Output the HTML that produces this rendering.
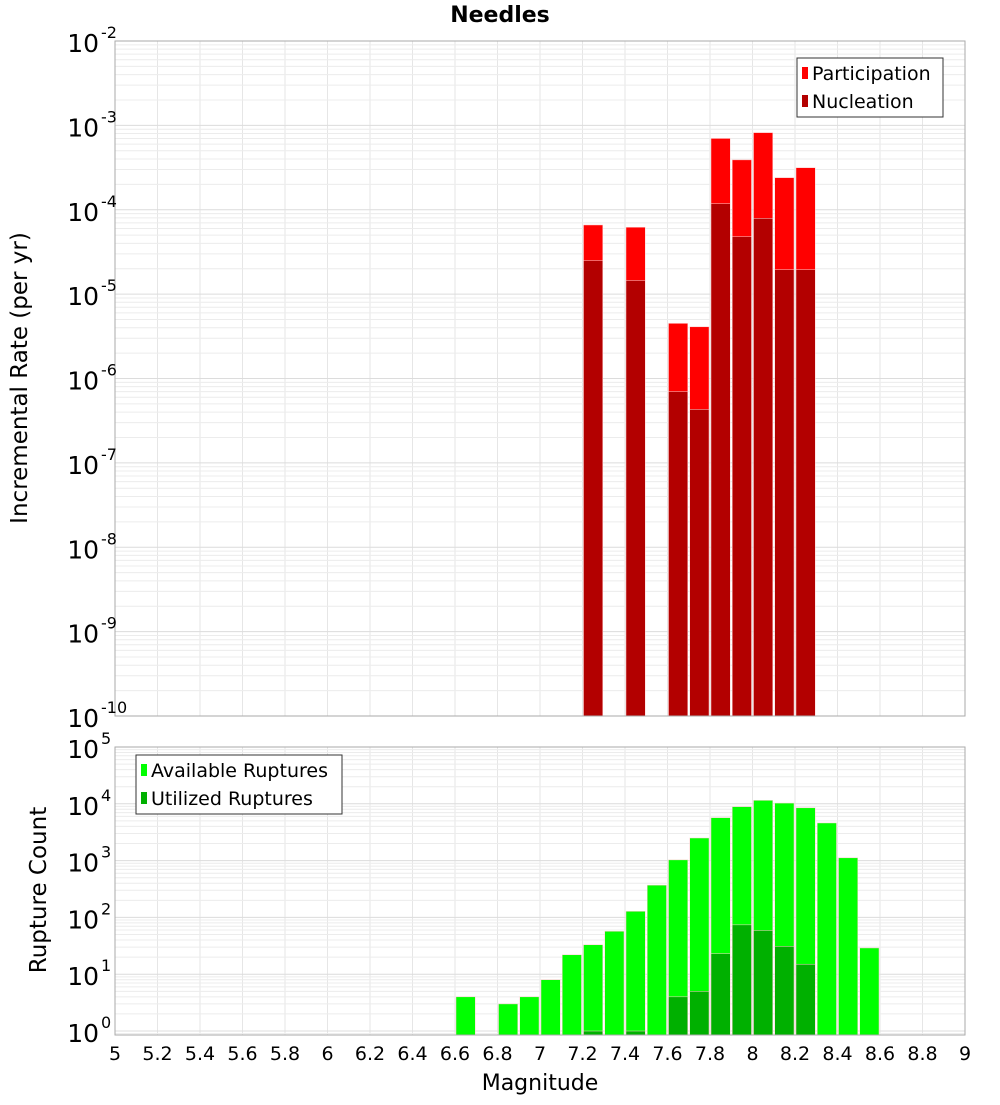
<!DOCTYPE html>
<html><head><meta charset="utf-8"><style>
body{margin:0;background:#fff;font-family:"Liberation Sans","DejaVu Sans",sans-serif}
svg text{font-family:"DejaVu Sans","Liberation Sans",sans-serif}
</style></head><body>
<svg id="c" width="1000" height="1100" xmlns="http://www.w3.org/2000/svg">
<text x="500" y="22" text-anchor="middle" font-size="22" font-weight="bold" fill="#000">Needles</text>
<text transform="translate(27,378) rotate(-90)" text-anchor="middle" font-size="23" fill="#000">Incremental Rate (per yr)</text>
<text transform="translate(46,890) rotate(-90)" text-anchor="middle" font-size="23" fill="#000">Rupture Count</text>
<text x="540" y="1090" text-anchor="middle" font-size="22" fill="#000">Magnitude</text>
<g id="g"></g>
</svg>
<script>
const bins=[7.25,7.45,7.65,7.75,7.85,7.95,8.05,8.15,8.25];
const participation=[6.6e-5,6.2e-5,4.5e-6,4.1e-6,7e-4,3.9e-4,8.2e-4,2.4e-4,3.15e-4];
const nucleation=[2.5e-5,1.45e-5,7e-7,4.3e-7,1.18e-4,4.8e-5,7.9e-5,1.95e-5,1.95e-5];
const rupBins=[6.65,6.85,6.95,7.05,7.15,7.25,7.35,7.45,7.55,7.65,7.75,7.85,7.95,8.05,8.15,8.25,8.35,8.45,8.55];
const available=[4,3,4,8,22,33,57,128,370,1030,2500,5700,8900,11500,10300,8500,4600,1120,29];
const utilized=[0,0,0,0,0,1,0,1,0,4,5,23,74,59,31,15,0,0,0];
const xTicks=[5,5.2,5.4,5.6,5.8,6,6.2,6.4,6.6,6.8,7,7.2,7.4,7.6,7.8,8,8.2,8.4,8.6,8.8,9];
const topExp=[-10,-9,-8,-7,-6,-5,-4,-3,-2];
const botExp=[0,1,2,3,4,5];

const NS="http://www.w3.org/2000/svg",G=document.getElementById('g');
function el(t,a){const e=document.createElementNS(NS,t);for(const k in a)e.setAttribute(k,a[k]);G.appendChild(e);return e;}
const L=115,R=965;
const X=m=>L+(m-5)/4*(R-L);
const T0=41,T1=716,yT=v=>T0+(-2-Math.log10(v))/8*(T1-T0);
const B0=747,B1=1035,bmin=-0.07,yB=v=>B0+(5-Math.log10(v))/(5-bmin)*(B1-B0);

function grid(y0,y1,lo,hi,yf,nm){
  for(const t of xTicks){const l=el('line',{x1:X(t),x2:X(t),y1:y0,y2:y1,stroke:'#e6e6e6','stroke-width':1});
    }
  for(let e=lo;e<hi;e++)for(let k=1;k<10;k++){const y=yf(k*Math.pow(10,e));if(y<y0||y>y1)continue;
    const l=el('line',{x1:L,x2:R,y1:y,y2:y,stroke:k==1?'#dcdcdc':'#ececec','stroke-width':1});
    }
}
grid(T0,T1,-10,-2,yT,'top');
grid(B0,B1,-1,5,yB,'bottom');

const bw=(R-L)/40;
function bar(c,v,yf,base,color,nm){if(!v)return;const y=yf(v);
  const r=el('rect',{x:X(c)-bw/2+1,y:y,width:bw-2,height:base-y,fill:color,stroke:'#ffd0d0','stroke-width':0.5});
  }
bins.forEach((c,i)=>bar(c,participation[i],yT,T1,'#ff0000','participation-bar'));
bins.forEach((c,i)=>bar(c,nucleation[i],yT,T1,'#b30000','nucleation-bar'));
rupBins.forEach((c,i)=>bar(c,available[i],yB,B1,'#00ff00','available-bar'));
rupBins.forEach((c,i)=>bar(c,utilized[i],yB,B1,'#00b000','utilized-bar'));

let f=el('rect',{x:L,y:T0,width:R-L,height:T1-T0,fill:'none',stroke:'#aaa'});

f=el('rect',{x:L,y:B0,width:R-L,height:B1-B0,fill:'none',stroke:'#aaa'});


function ylab(y,e,nm){const t=el('text',{x:99,y:y+11,'text-anchor':'end','font-size':25,fill:'#000'});
  t.textContent='10';
  const s=el('text',{x:101,y:y-3,'font-size':16,fill:'#000'});s.textContent=String(e);
  }
topExp.forEach(e=>ylab(yT(Math.pow(10,e)),e,'top-y-tick-label'));
botExp.forEach(e=>ylab(yB(Math.pow(10,e)),e,'bottom-y-tick-label'));
xTicks.forEach(t=>{const l=el('text',{x:X(t),y:1060,'text-anchor':'middle','font-size':19,fill:'#000'});
  l.textContent=String(t);});

function legend(x,y,w,items,nm){const b=el('rect',{x:x,y:y,width:w,height:59,fill:'#fff',stroke:'#333'});
  
  items.forEach((it,i)=>{const s=el('rect',{x:x+5,y:y+9+i*28,width:6,height:12,fill:it[1]});
    
    const t=el('text',{x:x+15,y:y+22+i*28,'font-size':19,fill:'#000'});t.textContent=it[0];
    });}
legend(797,58,146,[['Participation','#ff0000'],['Nucleation','#b30000']],'top-legend');
legend(136,755,206,[['Available Ruptures','#00ff00'],['Utilized Ruptures','#00b000']],'bottom-legend');
</script>
</body></html>
